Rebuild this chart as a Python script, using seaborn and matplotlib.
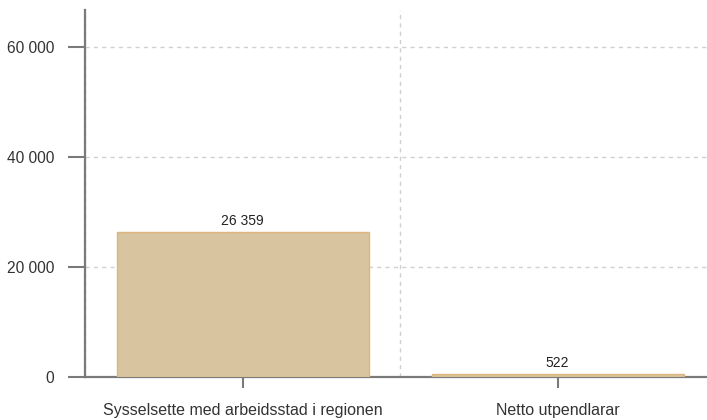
import matplotlib
matplotlib.use("Agg")
import matplotlib.pyplot as plt
import seaborn as sns
import pandas as pd

# data
categories = ["Sysselsette med arbeidsstad i regionen", "Netto utpendlarar"]
values = [26359, 522]
y_ticks = [0, 20000, 40000, 60000]

df = pd.DataFrame({"kategori": categories, "antal": values})

sns.set_theme(style="white")
plt.rcParams["font.family"] = ["Liberation Sans", "DejaVu Sans"]

fig = plt.figure(figsize=(7.07, 4.2), dpi=100)
ax = fig.add_axes([85 / 707, 43 / 420, 622 / 707, 367 / 420])

sns.barplot(data=df, x="kategori", y="antal", color="#d8c49e", saturation=1,
            width=0.8, edgecolor="#dfb57e", linewidth=1, ax=ax, zorder=3)

# grid: horizontal at y ticks, vertical between categories
ax.set_xticks([-0.5, 0.5, 1.5], minor=True)
ax.set_yticks(y_ticks)
ax.set_yticklabels([f"{v:,}".replace(",", " ") for v in y_ticks])
ax.set_xlim(-0.5, 1.4746)
ax.set_ylim(0, 66700)
ax.set_xlabel("")
ax.set_ylabel("")

ax.grid(axis="y", which="major", linestyle=(0, (3, 3)), color="#d0d0d0", linewidth=1, zorder=0)
ax.grid(axis="x", which="minor", linestyle=(0, (3, 3)), color="#d0d0d0", linewidth=1, zorder=0)
ax.grid(axis="x", which="major", visible=False)
ax.set_axisbelow(True)

for side in ["top", "right"]:
    ax.spines[side].set_visible(False)
for side in ["left", "bottom"]:
    ax.spines[side].set_color("#7a7a7a")
    ax.spines[side].set_linewidth(1.6)

ax.tick_params(axis="x", which="major", length=8, width=1.5, color="#7a7a7a",
               labelsize=11.5, labelcolor="#333333", pad=11, direction="out", bottom=True)
ax.tick_params(axis="x", which="minor", length=0)
ax.tick_params(axis="y", length=12, width=1.5, color="#7a7a7a",
               labelsize=11.2, labelcolor="#333333", pad=10, direction="out", left=True)

for i, v in enumerate(values):
    ax.annotate(f"{v:,}".replace(",", " "), (i, v), xytext=(0, 3), textcoords="offset points",
                ha="center", va="bottom", fontsize=10, color="#222222")

fig.savefig("out.png", dpi=100)
